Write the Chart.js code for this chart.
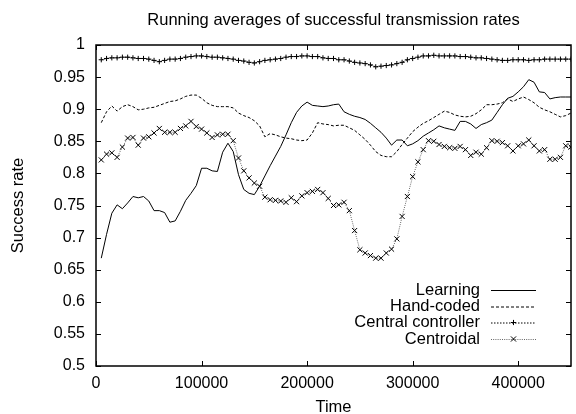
<!DOCTYPE html>
<html><head><meta charset="utf-8">
<script src="https://cdn.jsdelivr.net/npm/chart.js@4.4.1/dist/chart.umd.min.js"></script>
<style>html,body{margin:0;padding:0;background:#fff}#wrap{width:576px;height:414px}</style>
</head><body><div id="wrap"><canvas id="c" width="576" height="414"></canvas></div>
<script>
const TITLE = "Running averages of successful transmission rates";
const X_TITLE = "Time";
const Y_TITLE = "Success rate";
const SERIES_NAMES = ["Learning", "Hand-coded", "Central controller", "Centroidal"];
const X_TICKS = [0, 100000, 200000, 300000, 400000];
const Y_TICKS = [0.5, 0.55, 0.6, 0.65, 0.7, 0.75, 0.8, 0.85, 0.9, 0.95, 1];
const TIME_STEP = 5000;

const learning = [0.668,0.705,0.738,0.751,0.745,0.754,0.764,0.762,0.764,0.757,
0.742,0.742,0.739,0.724,0.726,0.741,0.758,0.769,0.781,0.808,
0.808,0.804,0.803,0.833,0.847,0.834,0.798,0.775,0.769,0.767,
0.780,0.796,0.812,0.827,0.842,0.860,0.879,0.895,0.905,0.911,
0.906,0.905,0.904,0.905,0.907,0.908,0.896,0.892,0.889,0.887,
0.884,0.878,0.871,0.864,0.855,0.844,0.852,0.852,0.843,0.846,
0.851,0.858,0.863,0.868,0.874,0.871,0.869,0.867,0.881,0.881,
0.877,0.870,0.876,0.879,0.883,0.895,0.907,0.917,0.920,0.927,
0.935,0.946,0.942,0.927,0.926,0.916,0.918,0.919,0.919,0.919];

const handCoded = [0.879,0.896,0.905,0.897,0.904,0.907,0.904,0.899,0.900,0.902,
0.903,0.906,0.909,0.912,0.913,0.916,0.920,0.922,0.922,0.917,
0.910,0.906,0.904,0.904,0.904,0.902,0.894,0.890,0.887,0.882,
0.874,0.857,0.862,0.860,0.857,0.855,0.854,0.852,0.851,0.852,
0.863,0.879,0.877,0.876,0.874,0.875,0.875,0.871,0.867,0.860,
0.853,0.844,0.834,0.828,0.826,0.826,0.834,0.845,0.855,0.865,
0.872,0.878,0.882,0.887,0.892,0.897,0.895,0.891,0.889,0.888,
0.889,0.893,0.899,0.907,0.907,0.908,0.910,0.916,0.912,0.916,
0.919,0.915,0.910,0.903,0.899,0.896,0.892,0.888,0.890,0.894];

const central = [0.977,0.979,0.980,0.980,0.981,0.981,0.980,0.979,0.979,0.978,
0.976,0.974,0.976,0.978,0.978,0.979,0.981,0.982,0.983,0.983,
0.982,0.981,0.981,0.980,0.979,0.978,0.976,0.975,0.973,0.972,
0.974,0.976,0.977,0.978,0.979,0.981,0.982,0.982,0.983,0.983,
0.982,0.982,0.980,0.979,0.979,0.977,0.977,0.975,0.973,0.972,
0.971,0.969,0.966,0.967,0.968,0.969,0.971,0.973,0.977,0.979,
0.981,0.983,0.983,0.984,0.983,0.983,0.983,0.983,0.982,0.982,
0.981,0.980,0.980,0.979,0.978,0.977,0.976,0.976,0.977,0.977,
0.977,0.976,0.977,0.977,0.978,0.978,0.978,0.978,0.978,0.978];

const centroidal = [0.821,0.830,0.832,0.825,0.841,0.855,0.856,0.844,0.855,0.857,
0.863,0.870,0.864,0.864,0.864,0.870,0.874,0.881,0.873,0.869,
0.863,0.856,0.860,0.861,0.861,0.851,0.824,0.804,0.793,0.785,
0.780,0.763,0.759,0.758,0.757,0.755,0.762,0.756,0.765,0.770,
0.772,0.775,0.770,0.761,0.750,0.751,0.755,0.742,0.711,0.681,
0.676,0.672,0.668,0.668,0.676,0.682,0.698,0.733,0.764,0.795,
0.818,0.837,0.851,0.850,0.845,0.842,0.840,0.839,0.842,0.837,
0.828,0.833,0.830,0.840,0.851,0.850,0.848,0.843,0.835,0.843,
0.846,0.852,0.843,0.835,0.837,0.822,0.822,0.825,0.843,0.841];

const times = learning.map((_, i) => (i + 1) * TIME_STEP);
const pts = arr => arr.map((v, i) => ({x: times[i], y: v}));

const FONT = "'Liberation Sans', Arial, Helvetica, sans-serif";
const STYLES = [
  {dash: [], color: '#000', point: false, r: 0},
  {dash: [3, 2], color: '#000', point: false, r: 0},
  {dash: [1.5, 1.5], color: '#000', point: 'cross', r: 2.6},
  {dash: [1, 1.2], color: '#666', point: 'crossRot', r: 3.6}
];
const VALUES = [learning, handCoded, central, centroidal];

const datasets = VALUES.map((arr, k) => ({
  label: SERIES_NAMES[k],
  data: pts(arr),
  borderColor: STYLES[k].color,
  borderWidth: 1,
  borderDash: STYLES[k].dash,
  pointStyle: STYLES[k].point || 'circle',
  pointRadius: STYLES[k].r,
  pointBorderColor: '#000',
  pointBorderWidth: 1,
  pointBackgroundColor: '#000',
  tension: 0,
  fill: false
}));

const decor = {
  id: 'decor',
  afterDatasetsDraw(chart) {
    const ctx = chart.ctx, a = chart.chartArea;
    const xs = chart.scales.x, ys = chart.scales.y;
    ctx.save();
    ctx.strokeStyle = '#000';
    ctx.lineWidth = 1.5;
    ctx.setLineDash([]);
    ctx.strokeRect(a.left, a.top, a.right - a.left, a.bottom - a.top);
    ctx.lineWidth = 1;
    const tl = 5;
    ctx.beginPath();
    X_TICKS.forEach(t => {
      const px = Math.round(xs.getPixelForValue(t)) + 0.5;
      ctx.moveTo(px, a.bottom); ctx.lineTo(px, a.bottom - tl);
      ctx.moveTo(px, a.top); ctx.lineTo(px, a.top + tl);
    });
    Y_TICKS.forEach(t => {
      const py = Math.round(ys.getPixelForValue(t)) + 0.5;
      ctx.moveTo(a.left, py); ctx.lineTo(a.left + tl, py);
      ctx.moveTo(a.right, py); ctx.lineTo(a.right - tl, py);
    });
    ctx.stroke();

    ctx.fillStyle = '#000';
    ctx.font = '16.5px ' + FONT;
    ctx.textAlign = 'center';
    ctx.textBaseline = 'middle';
    ctx.fillText(TITLE, (a.left + a.right) / 2, 20);
    ctx.fillText(X_TITLE, (a.left + a.right) / 2, 407);
    ctx.save();
    ctx.translate(18, (a.top + a.bottom) / 2);
    ctx.rotate(-Math.PI / 2);
    ctx.fillText(Y_TITLE, 0, 0);
    ctx.restore();

    const rows = [290, 306.5, 322.5, 339];
    const tx = 480, l0 = 491, l1 = 536;
    ctx.textAlign = 'right';
    SERIES_NAMES.forEach((n, k) => {
      const y = rows[k];
      ctx.fillStyle = '#000';
      ctx.fillText(n, tx, y);
      ctx.strokeStyle = STYLES[k].color;
      ctx.lineWidth = 1;
      ctx.setLineDash(STYLES[k].dash);
      ctx.beginPath(); ctx.moveTo(l0, y + 0.5); ctx.lineTo(l1, y + 0.5); ctx.stroke();
      ctx.setLineDash([]);
      ctx.strokeStyle = '#000';
      const cx = (l0 + l1) / 2, r = STYLES[k].r;
      if (STYLES[k].point === 'cross') {
        ctx.beginPath(); ctx.moveTo(cx - r, y); ctx.lineTo(cx + r, y);
        ctx.moveTo(cx, y - r); ctx.lineTo(cx, y + r); ctx.stroke();
      } else if (STYLES[k].point === 'crossRot') {
        const d = r * 0.72;
        ctx.beginPath(); ctx.moveTo(cx - d, y - d); ctx.lineTo(cx + d, y + d);
        ctx.moveTo(cx - d, y + d); ctx.lineTo(cx + d, y - d); ctx.stroke();
      }
    });
    ctx.restore();
  }
};

new Chart(document.getElementById('c'), {
  type: 'line',
  data: {datasets},
  options: {
    responsive: false,
    animation: false,
    layout: {padding: {top: 45, right: 1, left: 0, bottom: 0}},
    plugins: {legend: {display: false}, title: {display: false}, tooltip: {enabled: false}},
    scales: {
      x: {
        type: 'linear', min: 0, max: 450000,
        grid: {display: false, drawTicks: false},
        border: {display: false},
        afterBuildTicks: s => { s.ticks = X_TICKS.map(v => ({value: v})); },
        afterFit: s => { s.height = 48; },
        ticks: {padding: 8, maxRotation: 0, autoSkip: false, color: '#000',
          font: {family: FONT, size: 16}, callback: v => String(v)}
      },
      y: {
        type: 'linear', min: 0.5, max: 1,
        grid: {display: false, drawTicks: false},
        border: {display: false},
        afterBuildTicks: s => { s.ticks = Y_TICKS.map(v => ({value: v})); },
        afterFit: s => { s.width = 96; },
        ticks: {padding: 11, color: '#000', font: {family: FONT, size: 16},
          callback: v => String(+Number(v).toFixed(2))}
      }
    }
  },
  plugins: [decor]
});
</script></body></html>
